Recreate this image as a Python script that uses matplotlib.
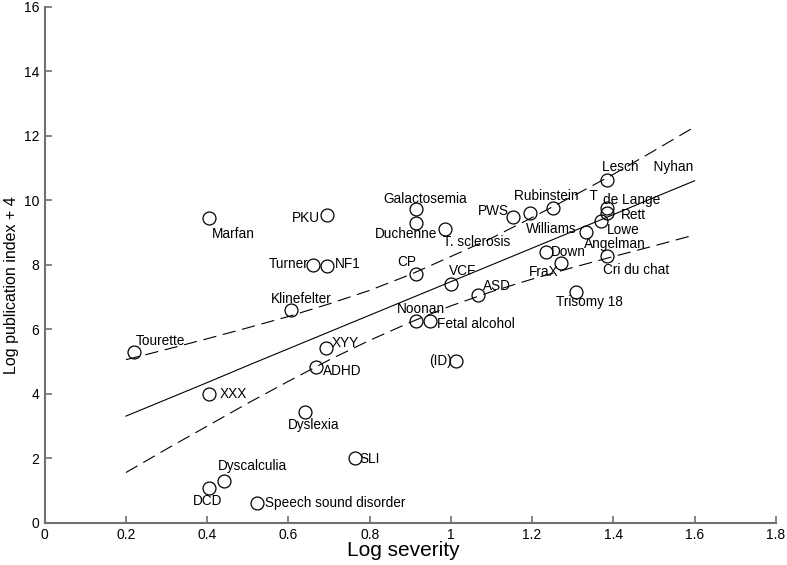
import numpy as np
import matplotlib
matplotlib.use("Agg")
import matplotlib.pyplot as plt

plt.rcParams['font.family'] = ['Liberation Sans', 'DejaVu Sans']

# disorders: log severity vs log publication index + 4
names = ["Tourette", "XXX", "DCD", "Dyscalculia", "Speech sound disorder",
         "Dyslexia", "Klinefelter", "Marfan", "PKU", "Turner", "NF1",
         "Galactosemia", "Duchenne", "T. sclerosis", "PWS", "Rubinstein   T",
         "Williams", "Lesch    Nyhan", "de Lange", "Rett", "Lowe", "Angelman",
         "Down", "FraX", "Cri du chat", "Trisomy 18", "CP", "VCF", "ASD",
         "Noonan", "Fetal alcohol", "(ID)", "SLI", "XYY", "ADHD"]
severity = [0.220, 0.405, 0.405, 0.442, 0.523,
            0.642, 0.606, 0.405, 0.694, 0.661, 0.694,
            0.915, 0.915, 0.986, 1.153, 1.196,
            1.251, 1.385, 1.385, 1.385, 1.369, 1.332,
            1.235, 1.272, 1.385, 1.309, 0.915, 1.001, 1.067,
            0.915, 0.948, 1.012, 0.763, 0.692, 0.667]
pubindex = [5.29, 3.98, 1.08, 1.30, 0.61,
            3.42, 6.59, 9.46, 9.55, 7.99, 7.96,
            9.71, 9.30, 9.11, 9.48, 9.59,
            9.77, 10.62, 9.74, 9.59, 9.36, 9.02,
            8.40, 8.04, 8.26, 7.14, 7.70, 7.40, 7.05,
            6.26, 6.26, 5.02, 1.99, 5.40, 4.81]

# regression line and confidence band
fit_x = [0.2, 0.3, 0.4, 0.5, 0.6, 0.7, 0.8, 0.9, 1.0, 1.1, 1.2, 1.3, 1.4, 1.5, 1.6]
fit_y = [3.30, 3.82, 4.34, 4.87, 5.39, 5.91, 6.43, 6.95, 7.47, 7.99, 8.51,
         9.03, 9.55, 10.08, 10.60]
upper_y = [5.05, 5.37, 5.70, 6.04, 6.39, 6.78, 7.20, 7.69, 8.25, 8.82, 9.46,
           10.12, 10.80, 11.53, 12.27]
lower_y = [1.55, 2.28, 2.99, 3.70, 4.38, 5.04, 5.65, 6.21, 6.72, 7.16, 7.55,
           7.91, 8.25, 8.58, 8.92]

# label placement (offset in pixels, horizontal alignment)
label_pos = {
    "Tourette": (2, 11, "left"), "XXX": (10, 0, "left"), "DCD": (-2, -13, "center"),
    "Dyscalculia": (28, 15, "center"), "Speech sound disorder": (8, 0, "left"),
    "Dyslexia": (8, -13, "center"), "Klinefelter": (10, 11, "center"),
    "Marfan": (3, -16, "left"), "PKU": (-7, -3, "right"), "Turner": (-5, 1, "right"),
    "NF1": (8, 2, "left"), "Galactosemia": (9, 10, "center"),
    "Duchenne": (-10, -11, "center"), "T. sclerosis": (-2, -13, "left"),
    "PWS": (-4, 6, "right"), "Rubinstein   T": (-16, 17, "left"),
    "Williams": (-2, -21, "center"), "Lesch    Nyhan": (-5, 13, "left"),
    "de Lange": (-4, 8, "left"), "Rett": (14, -2, "left"), "Lowe": (6, -9, "left"),
    "Angelman": (29, -12, "center"), "Down": (5, 0, "left"),
    "FraX": (-3, -9, "right"), "Cri du chat": (-4, -14, "left"),
    "Trisomy 18": (13, -10, "center"), "CP": (0, 12, "right"),
    "VCF": (-2, 13, "left"), "ASD": (5, 9, "left"), "Noonan": (5, 12, "center"),
    "Fetal alcohol": (7, -3, "left"), "(ID)": (-4, 0, "right"),
    "SLI": (5, -1, "left"), "XYY": (6, 5, "left"), "ADHD": (7, -4, "left"),
}

fig = plt.figure(figsize=(7.87, 5.65), dpi=100)
ax = fig.add_axes([0.0568, 0.0752, 0.929, 0.913])

ax.plot(fit_x, fit_y, color='black', lw=0.8)
ax.plot(fit_x, upper_y, color='black', lw=0.8, linestyle=(0, (12, 6)))
ax.plot(fit_x, lower_y, color='black', lw=0.8, linestyle=(0, (12, 6)))
ax.plot(severity, pubindex, 'o', ms=9.3, mfc='none', mec='black', mew=0.9)

for n, x, y in zip(names, severity, pubindex):
    dx, dy, ha = label_pos[n]
    ax.annotate(n, (x, y), xytext=(dx, dy), textcoords='offset pixels',
                ha=ha, va='center', fontsize=9.8)

ax.set_xlim(0, 1.8)
ax.set_ylim(0, 16)
ax.set_xticks(np.arange(0, 1.81, 0.2))
ax.set_xticklabels(["0", "0.2", "0.4", "0.6", "0.8", "1", "1.2", "1.4", "1.6", "1.8"])
ax.set_yticks(range(0, 17, 2))
for s in ['top', 'right']:
    ax.spines[s].set_visible(False)
for s in ['left', 'bottom']:
    ax.spines[s].set_color('#707070')
    ax.spines[s].set_linewidth(1.5)
ax.tick_params(direction='in', length=5, width=1.2, color='#707070',
               labelsize=10, pad=4)
ax.set_xlabel("Log severity", fontsize=15)
ax.set_ylabel("Log publication index + 4", fontsize=11.5)
ax.xaxis.set_label_coords(0.49, -0.035)
ax.yaxis.set_label_coords(-0.035, 0.46)

fig.savefig("out.png", dpi=100)
